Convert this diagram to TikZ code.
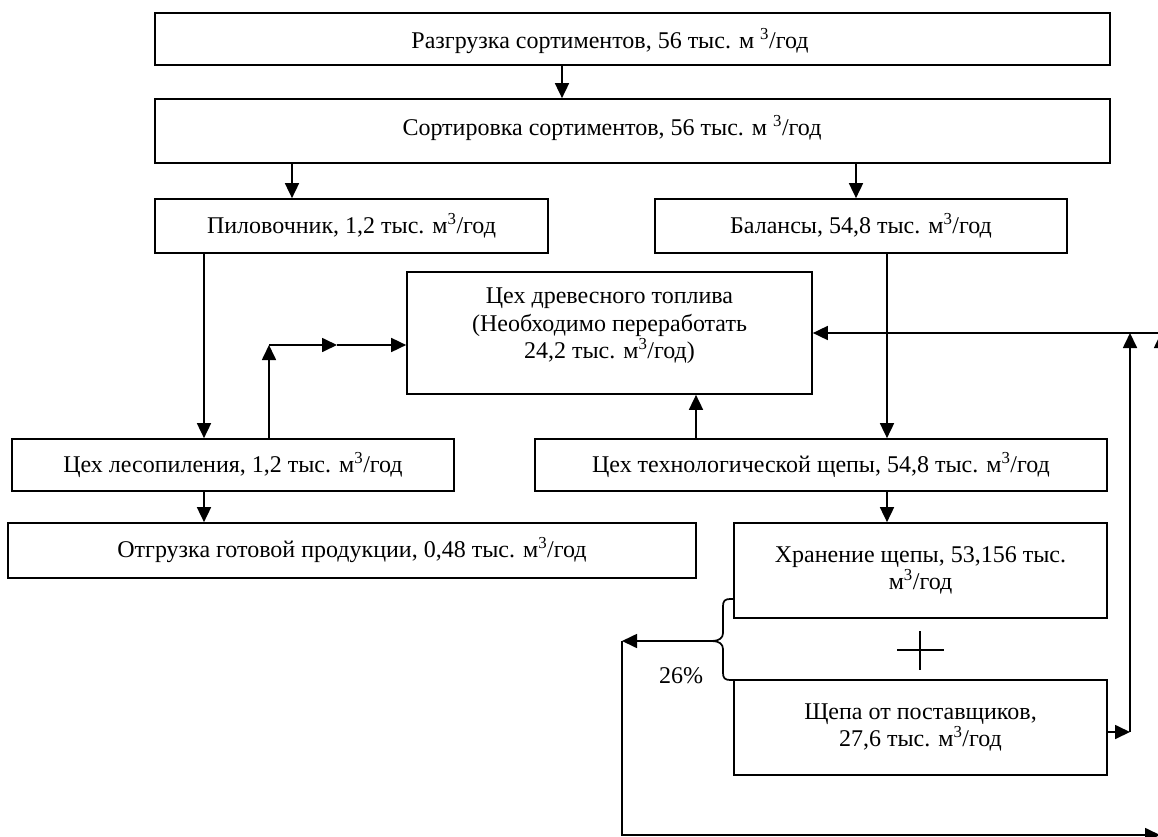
\documentclass[tikz,border=0pt]{standalone}
\usepackage{fontspec}
\setmainfont{Liberation Serif}
\usetikzlibrary{arrows.meta}
\begin{document}
\begin{tikzpicture}[x=1pt,y=-1pt,
  txt/.style={font=\fontsize{24}{27.5}\selectfont,align=center,inner sep=0pt},
  bx/.style={draw,line width=1.7pt,inner sep=0pt,txt},
  ln/.style={line width=1.7pt},
  arr/.style={line width=1.7pt,-{Triangle[length=15pt,width=14pt]}}]
\useasboundingbox (0,0) rectangle (1158,837);
% boxes
\node[bx,minimum width=955pt,minimum height=52pt] (n1) at (632.5,39) {};
\node[txt] (t1) at (610,41) {Разгрузка сортиментов, 56 тыс. м \textsuperscript{3}/год};
\node[bx,minimum width=955pt,minimum height=64pt] (n2) at (632.5,131) {};
\node[txt] (t2) at (612,128) {Сортировка сортиментов, 56 тыс. м \textsuperscript{3}/год};
\node[bx,minimum width=393pt,minimum height=54pt] (n3) at (351.5,226) {Пиловочник, 1,2 тыс. м\textsuperscript{3}/год};
\node[bx,minimum width=412pt,minimum height=54pt] (n4) at (861,226) {Балансы, 54,8 тыс. м\textsuperscript{3}/год};
\node[bx,minimum width=405pt,minimum height=122pt] (n5) at (609.5,333) {};
\node[txt] (t5) at (609.5,326) {Цех древесного топлива\\(Необходимо переработать\\24,2 тыс. м\textsuperscript{3}/год)};
\node[bx,minimum width=442pt,minimum height=52pt] (n6) at (233,465) {Цех лесопиления, 1,2 тыс. м\textsuperscript{3}/год};
\node[bx,minimum width=572pt,minimum height=52pt] (n7) at (821,465) {Цех технологической щепы, 54,8 тыс. м\textsuperscript{3}/год};
\node[bx,minimum width=688pt,minimum height=55pt] (n8) at (352,550.5) {Отгрузка готовой продукции, 0,48 тыс. м\textsuperscript{3}/год};
\node[bx,minimum width=373pt,minimum height=95pt] (n9) at (920.5,570.5) {Хранение щепы, 53,156 тыс.\\м\textsuperscript{3}/год};
\node[bx,minimum width=373pt,minimum height=95pt] (n10) at (920.5,727.5) {Щепа от поставщиков,\\27,6 тыс. м\textsuperscript{3}/год};
\node[txt] (pct) at (681,676) {26\%};
% helper coordinates
\coordinate (xa) at (562,0);
\coordinate (xb) at (292,0);
\coordinate (xc) at (856,0);
\coordinate (xd) at (204,0);
\coordinate (xe) at (887,0);
\coordinate (xf) at (696,0);
\coordinate (ja) at (269,345);
\coordinate (jb) at (337,345);
\coordinate (q) at (1130,732);
\coordinate (rt) at (1161,333);
\coordinate (rb) at (1161,835);
\coordinate (bt) at (712,641);
\coordinate (bl) at (622,641);
\coordinate (bb) at (622,835);
\coordinate (br) at (1160,835);
% connectors
\draw[arr] (n1.south -| xa) -- (n2.north -| xa);
\draw[arr] (n2.south -| xb) -- (n3.north -| xb);
\draw[arr] (n2.south -| xc) -- (n4.north -| xc);
\draw[arr] (n3.south -| xd) -- (n6.north -| xd);
\draw[arr] (n4.south -| xe) -- (n7.north -| xe);
\draw[arr] (n6.north -| ja) -- (ja);
\draw[arr] (ja) -- (jb);
\draw[arr] (jb) -- (jb -| n5.west);
\draw[arr] (n7.north -| xf) -- (n5.south -| xf);
\draw[arr] (n6.south -| xd) -- (n8.north -| xd);
\draw[arr] (n7.south -| xe) -- (n9.north -| xe);
\draw[arr] (rt) -- (rt -| n5.east);
\draw[arr] (rb) -- (rt);
\draw[arr] (q -| n10.east) -- (q);
\draw[arr] (q) -- (q |- rt);
% brace
\draw[ln] (734,599) -- (730,599) .. controls (725,599) and (723,601) .. (723,606) -- (723,633) .. controls (723,638) and (719,641) .. (bt) .. controls (719,641) and (723,644) .. (723,649) -- (723,673) .. controls (723,678) and (725,680) .. (730,680) -- (734,680);
\draw[arr] (bt) -- (bl);
\draw[arr] (bl) -- (bb) -- (br);
% plus sign
\draw[ln] (897,650) -- (944,650);
\draw[ln] (920,631) -- (920,670);
\end{tikzpicture}
\end{document}
